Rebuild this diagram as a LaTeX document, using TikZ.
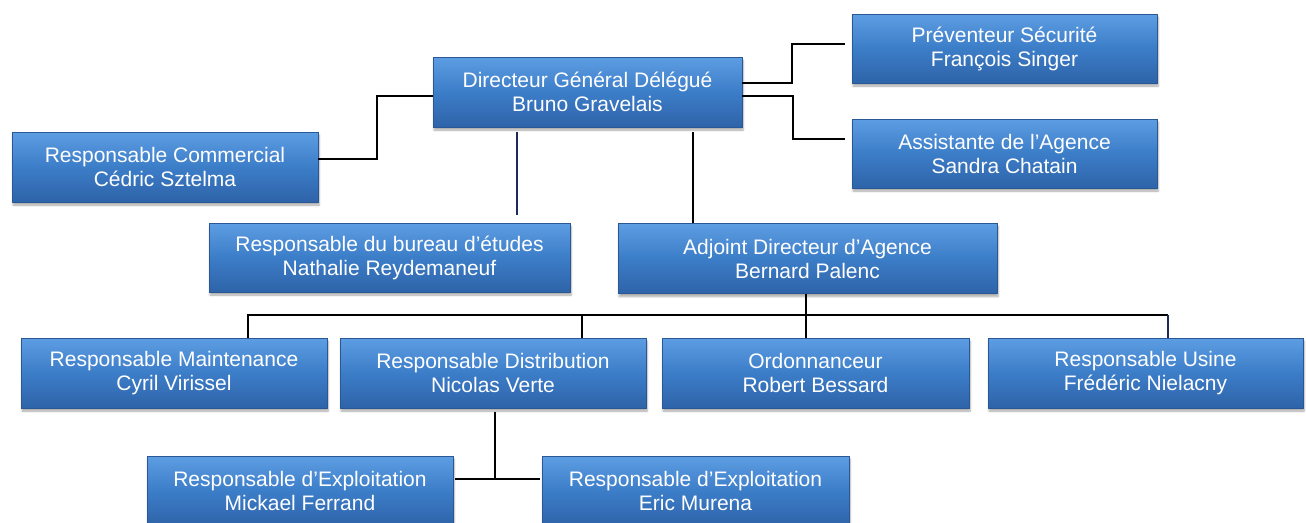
\documentclass[tikz,border=0pt]{standalone}
\usepackage{fontspec}
\setmainfont{Liberation Sans}
\usetikzlibrary{shadows.blur}
\definecolor{boxtop}{HTML}{5D9DE2}
\definecolor{boxmid}{HTML}{3C7DC8}
\definecolor{boxbot}{HTML}{2E63A8}
\definecolor{boxedge}{HTML}{2A5896}
\definecolor{navyline}{HTML}{1C2A5E}
\tikzset{
  orgbox/.style={rectangle, inner sep=0pt, align=center, text=white,
    font=\fontsize{21}{24}\selectfont,
    top color=boxtop, bottom color=boxbot, middle color=boxmid,
    draw=boxedge, line width=0.6pt,
    blur shadow={shadow xshift=1pt, shadow yshift=-3pt, shadow blur steps=6, shadow opacity=35},
    minimum height=70pt},
  link/.style={line width=1.7pt, black},
  navylink/.style={line width=1.7pt, navyline}
}
\begin{document}
\begin{tikzpicture}[x=1pt,y=-1pt]
\useasboundingbox (0,0) rectangle (1306,522);
\clip (0,0) rectangle (1306,522);
% boxes
\node[orgbox, minimum width=309pt] (dg) at (587.5,92) {Directeur Général Délégué\\Bruno Gravelais};
\node[orgbox, minimum width=306pt] (com) at (165,167) {Responsable Commercial\\Cédric Sztelma};
\node[orgbox, minimum width=305pt, minimum height=69pt] (prev) at (1004.5,48.5) {Préventeur Sécurité\\François Singer};
\node[orgbox, minimum width=305pt, minimum height=69pt] (asst) at (1004.5,153.5) {Assistante de l’Agence\\Sandra Chatain};
\node[orgbox, minimum width=361pt, minimum height=69pt] (be) at (389.5,257.5) {Responsable du bureau d’études\\Nathalie Reydemaneuf};
\node[orgbox, minimum width=379pt] (adj) at (807.5,258.5) {Adjoint Directeur d’Agence\\Bernard Palenc};
\node[orgbox, minimum width=306pt] (maint) at (174,373) {Responsable Maintenance\\Cyril Virissel};
\node[orgbox, minimum width=306pt] (dist) at (493,373) {Responsable Distribution\\Nicolas Verte};
\node[orgbox, minimum width=307pt] (ord) at (815.5,373) {Ordonnanceur\\Robert Bessard};
\node[orgbox, minimum width=315pt] (usine) at (1145.5,373) {Responsable Usine\\Frédéric Nielacny};
\node[orgbox, minimum width=306pt] (mick) at (300,491) {Responsable d’Exploitation\\Mickael Ferrand};
\node[orgbox, minimum width=307pt] (eric) at (695.5,491) {Responsable d’Exploitation\\Eric Murena};
% connectors
\coordinate (comjoin) at (377,96);
\draw[link] (com.east |- 0,159) -| (comjoin) -- (dg.west |- comjoin);
\coordinate (prevend) at (845,44);
\draw[link] (dg.east |- 0,83) -| (792,44) -- (prevend);
\coordinate (asstend) at (845,139);
\draw[link] (dg.east |- 0,96) -| (793,139) -- (asstend);
\coordinate (beend) at (517,215);
\draw[navylink] (dg.south -| beend) ++(0,5) -- (beend);
\draw[link] (dg.south -| 693,0) ++(0,5) -- (adj.north -| 693,0);
\coordinate (bar) at (806,315);
\draw[link] (adj.south -| bar) -- (ord.north -| bar);
\draw[link] (maint.north -| 248,0) -- (248,315) -- (1168,315);
\draw[navylink] (1168,315) -- (usine.north -| 1168,0);
\draw[link] (582,315) -- (dist.north -| 582,0);
\coordinate (sub) at (495,479);
\draw[link] (dist.south -| sub) ++(0,4) -- (sub);
\draw[link] (mick.east |- sub) ++(2,0) -- (sub) -- ([xshift=-2pt]eric.west |- sub);
\end{tikzpicture}
\end{document}
